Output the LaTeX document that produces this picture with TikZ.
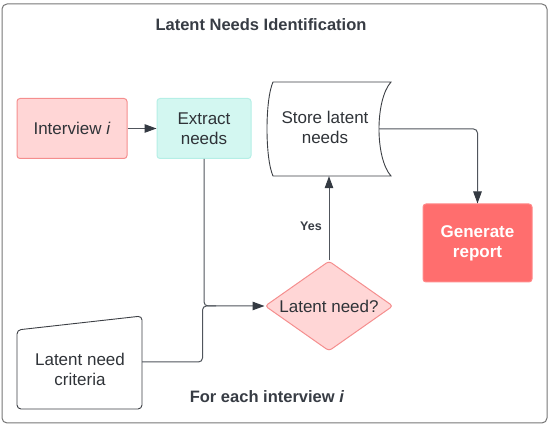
\documentclass[tikz,border=0pt]{standalone}
\usepackage{fontspec}
\setmainfont{Liberation Sans}
\usetikzlibrary{arrows.meta,shapes.geometric}
\definecolor{txt}{HTML}{2F3338}
\definecolor{ttl}{HTML}{373C44}
\definecolor{pinkf}{HTML}{FFD6D6}
\definecolor{pinkd}{HTML}{F58E8E}
\definecolor{cyanf}{HTML}{D3F7F1}
\definecolor{cyand}{HTML}{B5EFE6}
\definecolor{redf}{HTML}{FF6E6E}
\definecolor{redd}{HTML}{FF8A8A}
\definecolor{framec}{HTML}{767676}
\definecolor{conn}{HTML}{50555C}
\definecolor{tipc}{HTML}{343A42}
\definecolor{outl}{HTML}{3C3F44}
\begin{document}
\begin{tikzpicture}[x=1pt,y=-1pt,
  base/.style={font=\fontsize{17}{20}\selectfont, text=txt, align=center, inner sep=0pt},
  boldlbl/.style={font=\fontsize{16.5}{20}\selectfont\bfseries, text=ttl, align=center, inner sep=0pt},
  procbox/.style={base, draw, rounded corners=3pt, line width=1pt},
  outline/.style={draw=outl, line width=0.9pt},
  connector/.style={draw=conn, line width=1pt},
  arrowed/.style={-{Triangle[length=12pt,width=8.5pt,fill=tipc,color=tipc]}},
]
\useasboundingbox (0,0) rectangle (550,427);
% frame
\draw[draw=framec, line width=1pt, rounded corners=5pt] (2,4) rectangle (547,423);
% title
\node[boldlbl] (title) at (261,25) {Latent Needs Identification};
% boxes
\node[procbox, fill=pinkf, draw=pinkd, minimum width=110pt, minimum height=60pt] (intv) at (72,128.5) {Interview \textit{i}};
\node[procbox, fill=cyanf, draw=cyand, minimum width=94pt, minimum height=60pt] (ext) at (204,128.5) {Extract\\needs};
\node[procbox, fill=redf, draw=redd, text=white, font=\fontsize{17}{20}\selectfont\bfseries, minimum width=109pt, minimum height=78pt] (gen) at (477.5,243) {Generate\\report};
% store (stored data shape)
\draw[outline] (273,82) -- (391,82) .. controls (375,100) and (375,158) .. (391,176) -- (273,176) .. controls (265,158) and (265,100) .. (273,82) -- cycle;
\node[inner sep=0pt, minimum width=118pt, minimum height=94pt] (store) at (329,129) {};
\node[base] (storetxt) at (325,127) {Store latent\\needs};
\coordinate (storeR) at (379,129);
% decision
\node[base, shape=diamond, draw=pinkd, fill=pinkf, line width=1pt, rounded corners=3pt, aspect=1.42, minimum width=128pt, minimum height=90pt] (dia) at (329,306) {Latent need?};
% criteria (manual input)
\draw[outline, rounded corners=4pt] (17,330) -- (142,316) -- (142,409) -- (17,409) -- cycle;
\node[base] (crit) at (80,369) {Latent need\\criteria};
\coordinate (critE) at (142,362);
% bottom label
\node[boldlbl] (loop) at (267,397) {For each interview \textit{i}};
% connectors
\draw[connector, arrowed] (intv.east) -- (ext.west);
\draw[connector, arrowed, rounded corners=4pt] (ext.south) |- (dia.west);
\draw[connector, rounded corners=4pt] (critE) -| ([xshift=-1.5pt]ext.south |- dia.west) -- ([xshift=12pt]ext.south |- dia.west);
\draw[connector, arrowed] (dia.north) -- (store.south);
\node[font=\fontsize{12.5}{14}\selectfont\bfseries, text=ttl, inner sep=0pt] (yes) at (311,226) {Yes};
\draw[connector, arrowed, rounded corners=4pt] (storeR) -| (gen.north);
\end{tikzpicture}
\end{document}
